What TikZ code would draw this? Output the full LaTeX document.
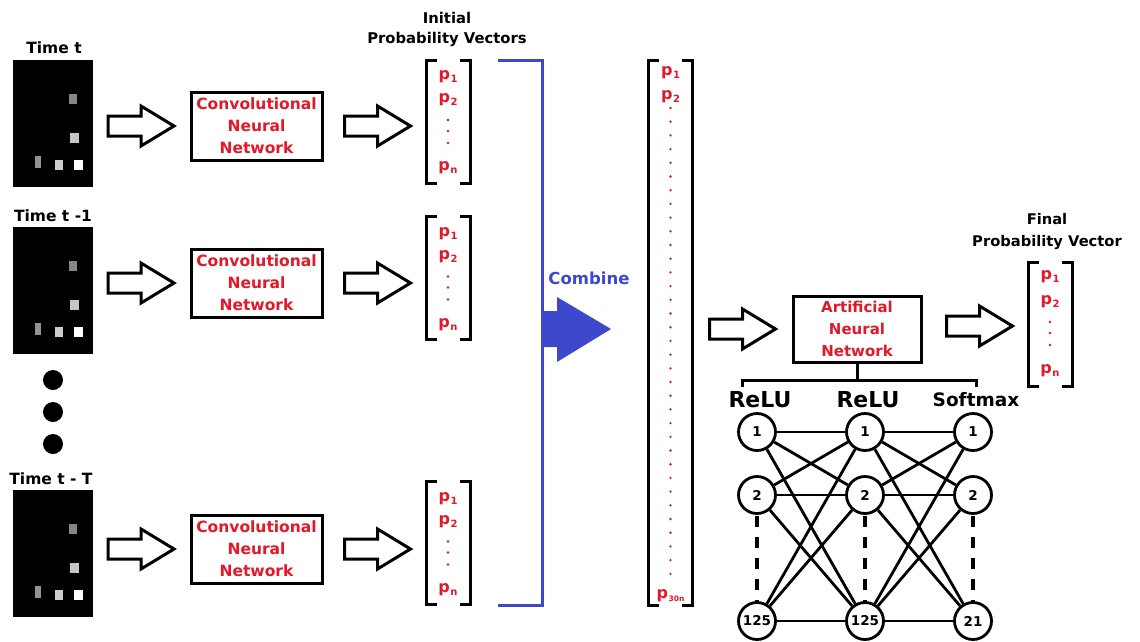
\documentclass[tikz,border=0pt]{standalone}
\usepackage{fontspec}
\setmainfont{DejaVu Sans}
\usetikzlibrary{calc}
\definecolor{myred}{RGB}{228,24,40}
\definecolor{myblue}{RGB}{62,72,204}
\newcommand\pv[1]{p\kern0.6pt\raisebox{-3pt}{\fontsize{10}{10}\selectfont #1}}
\newcommand\pvs[1]{p\kern0.6pt\raisebox{-3pt}{\fontsize{7.5}{7.5}\selectfont #1}}
\newcommand\vbrack[1]{%
  \draw[brk] ([xshift=9pt]#1.north west) -- (#1.north west) -- (#1.south west) -- ([xshift=9pt]#1.south west);
  \draw[brk] ([xshift=-9pt]#1.north east) -- (#1.north east) -- (#1.south east) -- ([xshift=-9pt]#1.south east);}
\tikzset{
  lbl/.style={font=\bfseries\fontsize{15.5}{17}\selectfont, align=center, inner sep=0pt},
  panel/.style={fill=black, minimum width=80pt, minimum height=127pt, inner sep=0pt, outer sep=0pt},
  netbox/.style={draw, line width=3pt, minimum width=131pt, minimum height=68pt, align=center,
     text=myred, font=\bfseries\fontsize{15.5}{22}\selectfont, inner sep=0pt},
  vec/.style={minimum width=44pt, inner sep=0pt, outer sep=0pt},
  brk/.style={line width=3pt, line cap=rect},
  pl/.style={text=myred, font=\bfseries\fontsize{16}{16}\selectfont, inner sep=0pt},
  rdot/.style={fill=myred, circle, inner sep=0pt, minimum size=2.6pt},
  neuron/.style={draw, circle, line width=2.8pt, minimum size=37pt, inner sep=0pt,
     font=\bfseries\fontsize{13.5}{14}\selectfont, fill=white},
  conn/.style={line width=2.8pt},
  harrow/.pic={\draw[line width=3pt, line join=miter, fill=white]
     (0,-10) -- (33,-10) -- (33,-20) -- (66,0) -- (33,20) -- (33,10) -- (0,10) -- cycle;},
}
\begin{document}
\begin{tikzpicture}[x=1pt,y=-1pt]
\useasboundingbox[fill=white] (0,0) rectangle (1140,641);

% time panels
\foreach \n/\y/\ly/\lx/\t in {1/123/48/54/{Time t},2/290/216/53/{Time t -1},3/553.5/479/51/{Time t - T}}{
  \node[panel] (img\n) at (53,\y) {};
  \node[lbl] (tl\n) at (\lx,\ly) {\t};
  \fill[gray!95!white] ($(img\n.north west)+(56,34)$) rectangle +(8,10);
  \fill[gray!45!white] ($(img\n.north west)+(57,73)$) rectangle +(9,10);
  \fill[gray!85!white] ($(img\n.north west)+(22,96)$) rectangle +(6,12);
  \fill[gray!40!white] ($(img\n.north west)+(42,100)$) rectangle +(8,10);
  \fill[white] ($(img\n.north west)+(61,100)$) rectangle +(9,10);
}
% ellipsis dots
\foreach \y [count=\i] in {380,412,444}{
  \node[fill=black, circle, minimum size=20pt, inner sep=0pt] (dot\i) at (53,\y) {};
}

% CNN boxes
\foreach \n/\y in {1/126,2/283,3/549}{
  \node[netbox] (cnn\n) at (256.5,\y) {Convolutional\\Neural\\Network};
  \pic at ($(img\n.east |- cnn\n.west)+(15,0)$) {harrow};
  \pic at ($(cnn\n.east)+(21,0)$) {harrow};
}

% initial probability vectors
\node[lbl, font=\bfseries\fontsize{14.8}{20}\selectfont] (initlbl) at (447,29) {Initial\\Probability Vectors};
\node[vec, minimum height=123pt] (v1) at (448,121.5) {};
\node[vec, minimum height=123pt] (v2) at (448,278) {};
\node[vec, minimum height=123pt] (v3) at (448,543) {};
\foreach \v in {v1,v2,v3}{
  \vbrack{\v}
  \node[pl] at ($(\v.north)+(0,17)$) {\pv{1}};
  \node[pl] at ($(\v.north)+(0,40)$) {\pv{2}};
  \foreach \d in {60,71,83} \node[rdot] at ($(\v.north)+(0,\d)$) {};
  \node[pl] at ($(\v.north)+(0,108)$) {\pv{n}};
}

% blue combine bracket and arrow
\draw[myblue, line width=3pt] (498,60) -- (542,60) -- (542,605) -- (498,605);
\node[font=\bfseries\fontsize{16.5}{18}\selectfont, text=myblue, inner sep=0pt] (comb) at (589,278) {Combine};
\fill[myblue] (542,311) -- (557,311) -- (557,297) -- (611,329) -- (557,362) -- (557,347) -- (542,347) -- cycle;

% big vector
\node[vec, minimum height=545pt] (big) at (670.5,332.5) {};
\vbrack{big}
\node[pl] at ($(big.north)+(0,13)$) {\pv{1}};
\node[pl] at ($(big.north)+(0,37)$) {\pv{2}};
\foreach \k in {0,...,34} \node[rdot] at ($(big.north)+(0,48+13.7*\k)$) {};
\node[pl] at ($(big.north)+(0,536)$) {\pvs{30n}};

% ANN
\node[netbox, minimum width=128pt, minimum height=66pt, font=\bfseries\fontsize{15}{22}\selectfont] (ann) at (857,329) {Artificial\\Neural\\Network};
\pic at ($(big.east |- ann.west)+(17,0)$) {harrow};
\pic at ($(ann.east)+(24,-3)$) {harrow};
\coordinate (tl) at (742,380);
\coordinate (tr) at (976,380);
\draw[line width=3pt] (ann.south) -- (ann.south |- tl);
\draw[line width=3pt] ($(tl)+(0,7)$) -- (tl) -- (tr) -- ($(tr)+(0,7)$);

% layer labels
\node[font=\bfseries\fontsize{22}{22}\selectfont, inner sep=0pt] (r1) at (760,400) {ReLU};
\node[font=\bfseries\fontsize{22}{22}\selectfont, inner sep=0pt] (r2) at (868,400) {ReLU};
\node[font=\bfseries\fontsize{18.5}{19}\selectfont, inner sep=0pt] (sm) at (976,400) {Softmax};

% final vector
\node[lbl, font=\bfseries\fontsize{14.7}{22}\selectfont] (finlbl) at (1047,231) {Final\\Probability Vector};
\node[vec, minimum height=124pt] (fv) at (1050,324) {};
\vbrack{fv}
\node[pl] at ($(fv.north)+(0,15)$) {\pv{1}};
\node[pl] at ($(fv.north)+(0,40)$) {\pv{2}};
\foreach \d in {60,71,83} \node[rdot] at ($(fv.north)+(0,\d)$) {};
\node[pl] at ($(fv.north)+(0,109)$) {\pv{n}};

% network
\foreach \c/\x in {a/757,b/865,c/973}{
  \draw[line width=3.5pt, dash pattern=on 11pt off 10pt] (\x,516) -- (\x,602);
}
\node[neuron] (a1) at (757,432) {1};
\node[neuron] (a2) at (757,495) {2};
\node[neuron] (a3) at (757,621) {125};
\node[neuron] (b1) at (865,432) {1};
\node[neuron] (b2) at (865,495) {2};
\node[neuron] (b3) at (865,621) {125};
\node[neuron] (c1) at (973,432) {1};
\node[neuron] (c2) at (973,495) {2};
\node[neuron] (c3) at (973,621) {21};
\foreach \i in {1,2,3}{
  \foreach \j in {1,2,3}{
    \draw[conn] (a\i) -- (b\j);
    \draw[conn] (b\i) -- (c\j);
  }
}
\end{tikzpicture}
\end{document}
